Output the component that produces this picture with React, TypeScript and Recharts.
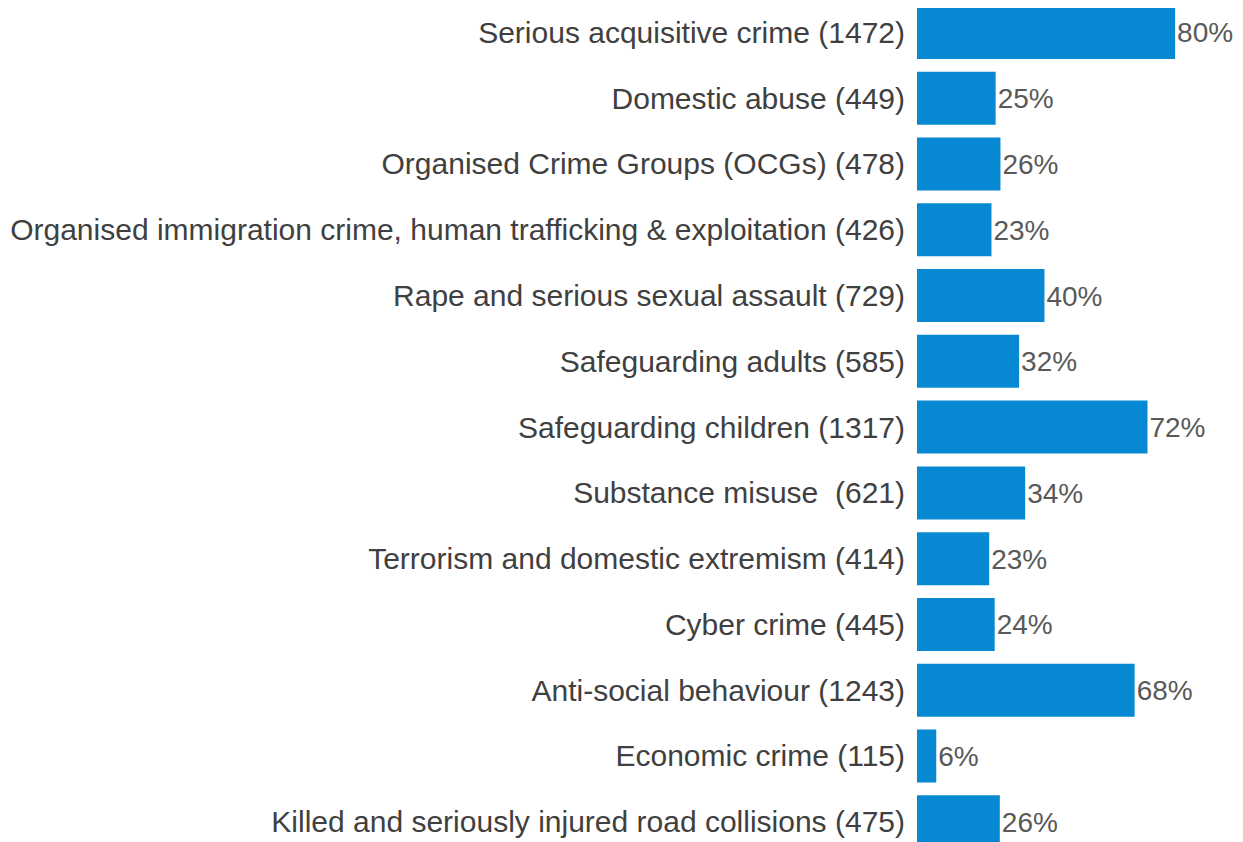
import React from 'react'
import { BarChart, Bar, XAxis, YAxis, LabelList } from 'recharts'

const categories = [
  'Serious acquisitive crime (1472)',
  'Domestic abuse (449)',
  'Organised Crime Groups (OCGs) (478)',
  'Organised immigration crime, human trafficking & exploitation (426)',
  'Rape and serious sexual assault (729)',
  'Safeguarding adults (585)',
  'Safeguarding children (1317)',
  'Substance misuse\u00a0 (621)',
  'Terrorism and domestic extremism (414)',
  'Cyber crime (445)',
  'Anti-social behaviour (1243)',
  'Economic crime (115)',
  'Killed and seriously injured road collisions (475)',
]

// share of respondents, percent
const shares = [80.4, 24.5, 26.0, 23.2, 39.7, 31.8, 71.8, 33.7, 22.5, 24.2, 67.8, 6.0, 25.8]

const data = categories.map((name, i) => ({ name, share: shares[i] }))

const FONT = '"Liberation Sans", Arial, Helvetica, sans-serif'

const CategoryTick = (props: any) => {
  const { x, y, payload } = props
  return (
    <text
      x={x}
      y={y}
      dy={10}
      textAnchor="end"
      fill="#404040"
      fontSize={30}
      fontFamily={FONT}
      style={{ whiteSpace: 'pre' }}
    >
      {payload.value}
    </text>
  )
}

const App = () => {
  return (
    <div style={{ margin: -8, width: 1243, height: 855 }}>
      <BarChart
        width={1243}
        height={855}
        data={data}
        layout="vertical"
        margin={{ top: 0, right: 5, left: 0, bottom: 0 }}
        barSize={53}
      >
        <XAxis type="number" domain={[0, 100]} hide />
        <YAxis
          type="category"
          dataKey="name"
          width={917}
          axisLine={false}
          tickLine={false}
          tickSize={0}
          tickMargin={12}
          interval={0}
          tick={<CategoryTick />}
        />
        <Bar dataKey="share" fill="#0788d2" isAnimationActive={false}>
          <LabelList
            dataKey="share"
            position="right"
            offset={2}
            formatter={(v: any) => `${Math.round(Number(v))}%`}
            fill="#595959"
            fontSize={28}
            fontFamily={FONT}
          />
        </Bar>
      </BarChart>
    </div>
  )
}

export default App
